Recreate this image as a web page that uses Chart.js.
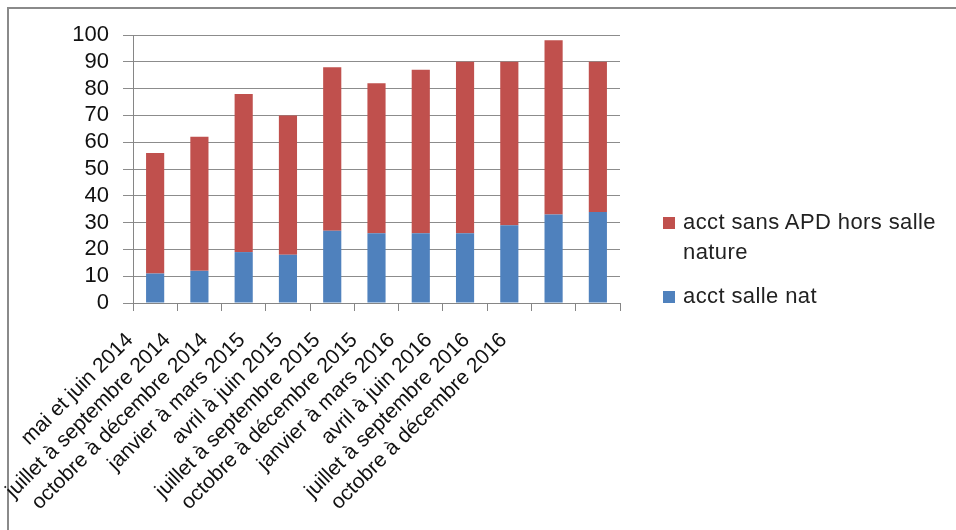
<!DOCTYPE html>
<html>
<head>
<meta charset="utf-8">
<script src="https://cdn.jsdelivr.net/npm/chart.js@4.4.0/dist/chart.umd.min.js"></script>
<style>
  html, body { margin: 0; padding: 0; background: #fff; }
  #wrap { position: relative; width: 956px; height: 530px; overflow: hidden; }
  #frame { position: absolute; left: 7px; top: 7px; width: 960px; height: 540px;
    border-left: 2px solid #8a8a8a; border-top: 2px solid #8a8a8a; }
  canvas { position: absolute; left: 0; top: 0; }
  #legend { position: absolute; left: 663px; top: 207px; width: 290px;
    font-family: "Liberation Sans", Arial, sans-serif; font-size: 22px; letter-spacing: 0.4px; color: #222; }
  .item { position: relative; padding-left: 20px; line-height: 30px; margin-bottom: 14px; }
  .box { position: absolute; left: 0; top: 10px; width: 12px; height: 12px; }
</style>
</head>
<body>
<div id="wrap">
  <div id="frame"></div>
  <canvas id="c" width="956" height="530"></canvas>
  <div id="legend"></div>
</div>
<script>
const categories = [
  "mai et juin 2014",
  "juillet à septembre 2014",
  "octobre à décembre 2014",
  "janvier à mars 2015",
  "avril à juin 2015",
  "juillet à septembre 2015",
  "octobre à décembre 2015",
  "janvier à mars 2016",
  "avril à juin 2016",
  "juillet à septembre 2016",
  "octobre à décembre 2016",
];
const salleNat = [11, 12, 19, 18, 27, 26, 26, 26, 29, 33, 34];
const horsSalle = [45, 50, 59, 52, 61, 56, 61, 64, 61, 65, 56];
const yTicks = [0, 10, 20, 30, 40, 50, 60, 70, 80, 90, 100];

const family = "'Liberation Sans', Arial, sans-serif";

const chart = new Chart(document.getElementById("c"), {
  type: "bar",
  data: {
    labels: categories,
    datasets: [
      {
        label: "acct salle nat",
        data: salleNat,
        backgroundColor: "#4f81bd",
        barPercentage: 0.41,
        categoryPercentage: 1,
      },
      {
        label: "acct sans APD hors salle nature",
        data: horsSalle,
        backgroundColor: "#c0504d",
        barPercentage: 0.41,
        categoryPercentage: 1,
      },
    ],
  },
  options: {
    responsive: false,
    animation: false,
    devicePixelRatio: 1,
    layout: { padding: { left: 20, top: 35, right: 336, bottom: 0 } },
    plugins: { legend: { display: false }, tooltip: { enabled: false } },
    scales: {
      x: {
        stacked: true,
        offset: true,
        weight: 0,
        border: { color: "#868686", width: 1 },
        grid: { drawOnChartArea: false, drawTicks: true, tickLength: 8, color: "#868686", offset: true },
        ticks: { display: false },
        afterFit: (s) => { s.height = 8; },
      },
      // category names sit on a tighter pitch than the bars in the original
      xLabels: {
        type: "linear",
        position: "bottom",
        weight: 1,
        min: -0.5,
        max: 11.34,
        border: { display: false },
        grid: { display: false },
        afterBuildTicks: (s) => { s.ticks = categories.map((c, i) => ({ value: i })); },
        ticks: {
          color: "#111",
          font: { family: family, size: 21 },
          minRotation: 45,
          maxRotation: 45,
          padding: 9,
          labelOffset: -44,
          autoSkip: false,
          callback: (v, i) => categories[i],
        },
        afterFit: (s) => { s.height = 219; },
      },
      y: {
        stacked: true,
        min: 0,
        max: 100,
        border: { color: "#868686", width: 1 },
        grid: { color: "#8c8c8c", tickLength: 10, lineWidth: 1 },
        afterBuildTicks: (s) => { s.ticks = yTicks.map((v) => ({ value: v })); },
        ticks: { color: "#111", font: { family: family, size: 22 }, padding: 14, autoSkip: false },
        afterFit: (s) => { s.width = 113; },
      },
    },
  },
});

// legend, Excel order (top series first)
const legend = document.getElementById("legend");
chart.data.datasets.slice().reverse().forEach((ds) => {
  const item = document.createElement("div");
  item.className = "item";
  const box = document.createElement("span");
  box.className = "box";
  box.style.background = ds.backgroundColor;
  item.appendChild(box);
  item.appendChild(document.createTextNode(ds.label));
  legend.appendChild(item);
});
</script>
</body>
</html>
